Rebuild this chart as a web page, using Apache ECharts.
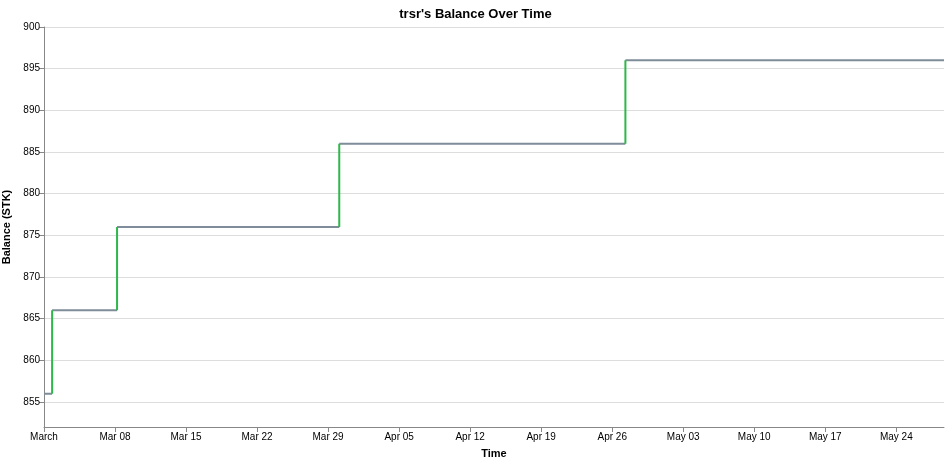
<!DOCTYPE html>
<html><head><meta charset="utf-8">
<script src="https://cdn.jsdelivr.net/npm/echarts@6/dist/echarts.min.js"></script>
<style>html,body{margin:0;padding:0;background:#fff}#c{width:951px;height:464px}</style>
</head><body><div id="c"></div>
<script>
// days since Mar 01 (2025) at which balance changes
const changeDays = [0, 0.8, 7.2, 29.1, 57.3];
const balances = [856, 866, 876, 886, 896];
const endDay = 88.7;
const yTicks = [855,860,865,870,875,880,885,890,895,900];

const horiz = [];
for (let i = 0; i < balances.length; i++) {
  const end = i + 1 < changeDays.length ? changeDays[i + 1] : endDay;
  horiz.push([changeDays[i], balances[i]], [end, balances[i]], null);
}
const vert = [];
for (let i = 1; i < balances.length; i++) {
  vert.push([changeDays[i], balances[i - 1]], [changeDays[i], balances[i]], null);
}
const months = ['Jan','Feb','Mar','Apr','May','Jun'];
const full = ['January','February','March','April','May','June'];
function fmt(v) {
  const d = new Date(2025, 2, 1 + Math.round(v));
  if (d.getDate() === 1) return full[d.getMonth()];
  return months[d.getMonth()] + ' ' + String(d.getDate()).padStart(2, '0');
}
const chart = echarts.init(document.getElementById('c'));
chart.setOption({
  animation: false,
  title: { text: "trsr's Balance Over Time", left: 'center', top: 3,
    textStyle: { fontFamily: 'Liberation Sans, Arial', fontSize: 13, fontWeight: 'bold', color: '#000' } },
  grid: { left: 44, right: 7, top: 27, bottom: 37, containLabel: false, outerBoundsMode: 'none' },
  xAxis: { type: 'value', min: 0, max: endDay, interval: 7,
    name: 'Time', nameLocation: 'middle', nameGap: 21,
    nameTextStyle: { fontFamily: 'Liberation Sans, Arial', fontSize: 11, fontWeight: 'bold', color: '#000' },
    axisLine: { lineStyle: { color: '#888' } }, axisTick: { lineStyle: { color: '#888' }, length: 5 },
    splitLine: { show: false },
    axisLabel: { formatter: fmt, fontFamily: 'Liberation Sans, Arial', fontSize: 10, color: '#000', margin: 5, showMaxLabel: false } },
  yAxis: { type: 'value', min: 852, max: 900,
    name: 'Balance (STK)', nameLocation: 'middle', nameGap: 32,
    nameTextStyle: { fontFamily: 'Liberation Sans, Arial', fontSize: 11, fontWeight: 'bold', color: '#000' },
    axisLine: { show: true, lineStyle: { color: '#888' } },
    axisTick: { show: true, lineStyle: { color: '#888' }, length: 5, customValues: yTicks },
    splitLine: { lineStyle: { color: '#ddd' } },
    axisLabel: { fontFamily: 'Liberation Sans, Arial', fontSize: 10, color: '#000', margin: 4, customValues: yTicks } },
  series: [
    { type: 'line', data: horiz, showSymbol: false, connectNulls: false,
      lineStyle: { color: '#7f8c99', width: 2 } },
    { type: 'line', data: vert, showSymbol: false, connectNulls: false,
      lineStyle: { color: '#2db84a', width: 2 } }
  ]
});
</script></body></html>
